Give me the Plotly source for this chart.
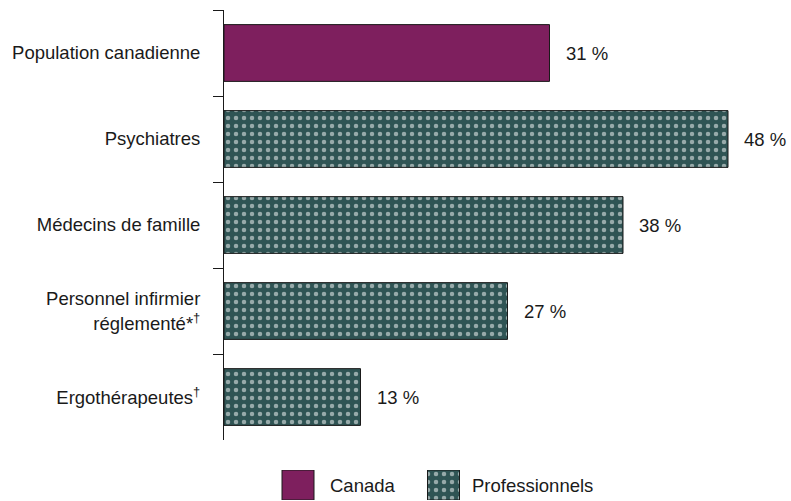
import plotly.graph_objects as go

# Share of each group (%)
categories = [
    "Population canadienne",
    "Psychiatres",
    "Médecins de famille",
    "Personnel infirmier<br>réglementé*<sup>†</sup>",
    "Ergothérapeutes<sup>†</sup>",
]
values = [31, 48, 38, 27, 13]
groups = ["Canada", "Professionnels", "Professionnels", "Professionnels", "Professionnels"]
legend_labels = ["Canada", "Professionnels"]

PURPLE = "#7E1F5E"
TEAL = "#2F5454"
FONT = "Liberation Sans, Arial, sans-serif"
FS = 18.5

def style_for(group):
    if group == "Canada":
        return dict(color=PURPLE, line=dict(color="#1a1a1a", width=1))
    return dict(
        color=TEAL,
        line=dict(color="#1a1a1a", width=1),
        pattern=dict(shape=".", fgcolor="white", bgcolor=TEAL, size=8, solidity=0.25),
    )

fig = go.Figure()

for g in legend_labels:
    idx = [i for i, gg in enumerate(groups) if gg == g]
    fig.add_trace(go.Bar(
        name=g,
        orientation="h",
        y=[categories[i] for i in idx],
        x=[values[i] for i in idx],
        marker=style_for(g),
        width=0.66,
        showlegend=False,
        xaxis="x", yaxis="y",
    ))

# Value labels to the right of each bar
for c, v in zip(categories, values):
    fig.add_annotation(
        x=v, y=c, xref="x", yref="y",
        text=f"{v} %", showarrow=False,
        xanchor="left", xshift=14,
        font=dict(family=FONT, size=FS, color="#1a1a1a"),
    )

# Legend drawn as swatches in a small axis below the chart
swatch_x = [298, 443.5]
label_x = [328, 470]
for g, sx, lx in zip(legend_labels, swatch_x, label_x):
    fig.add_trace(go.Bar(
        name=g, x=[sx], y=[1], base=0, width=[32],
        marker=style_for(g), showlegend=False,
        xaxis="x2", yaxis="y2", hoverinfo="skip",
    ))
    fig.add_annotation(
        x=lx, y=0.5, xref="x2", yref="y2", text=g, showarrow=False,
        xanchor="left", yanchor="middle",
        font=dict(family=FONT, size=FS, color="#1a1a1a"),
    )

fig.update_layout(
    width=791, height=501,
    margin=dict(l=224, r=42, t=10, b=0),
    paper_bgcolor="white", plot_bgcolor="white",
    font=dict(family=FONT, size=FS, color="#1a1a1a"),
    bargap=0.34,
    xaxis=dict(range=[0, 50], visible=False, domain=[0, 1]),
    yaxis=dict(
        domain=[0.1242, 1],
        autorange=False, range=[4.5, -0.5],
        type="category", automargin=False,
        showline=True, linecolor="#1a1a1a", linewidth=1,
        ticks="outside", tickson="boundaries", ticklen=10, tickcolor="#1a1a1a",
        ticklabelstandoff=19,
        showgrid=False, zeroline=False,
        tickfont=dict(family=FONT, size=FS, color="#1a1a1a"),
    ),
    xaxis2=dict(range=[224, 749], visible=False, domain=[0, 1], anchor="y2", fixedrange=True),
    yaxis2=dict(range=[0, 1], visible=False, domain=[0.002, 0.0631], anchor="x2", fixedrange=True),
    showlegend=False,
)

fig.write_html("out.html")
